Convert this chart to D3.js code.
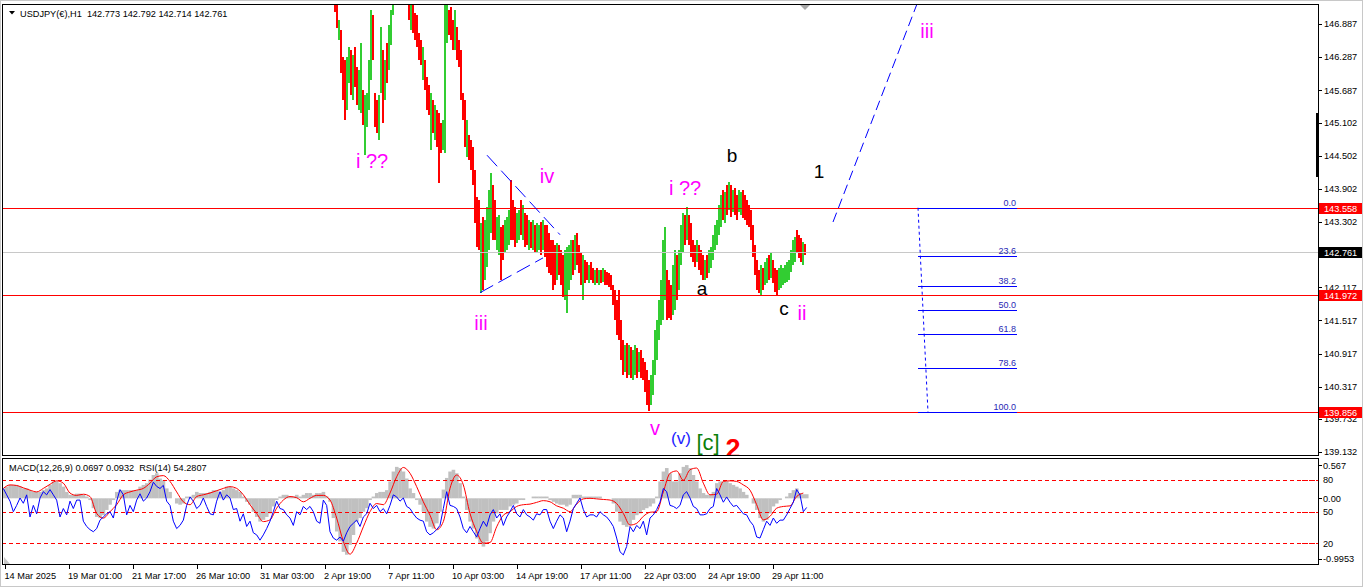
<!DOCTYPE html>
<html><head><meta charset="utf-8">
<script src="https://cdn.jsdelivr.net/npm/d3@7"></script>
<style>
html,body{margin:0;padding:0;background:#fff;overflow:hidden;}
svg{display:block;font-family:"Liberation Sans",Arial,sans-serif;}
text{white-space:pre;}
</style></head><body>
<svg id="c" width="1366" height="588"></svg>
<script>
// ---------------- DATA ----------------
const symbolTitle = "USDJPY(€),H1  142.773 142.792 142.714 142.761";
const indTitle = "MACD(12,26,9) 0.0697 0.0932  RSI(14) 54.2807";
// price bars (2-hour sampling, first visible bar at hour 330)
const barStartHour = 330, barStepHours = 2;
const highs = [
147.60,147.40,146.96,146.78,146.29,146.24,146.29,146.47,146.42,146.33,
146.47,146.11,146.05,146.54,145.69,145.60,145.64,146.24,147.14,147.05,
145.64,145.51,145.60,146.83,146.42,146.24,146.54,146.87,147.14,147.40,
147.80,147.95,148.05,147.95,147.85,147.80,147.70,147.45,147.23,147.23,
147.09,147.05,146.72,146.60,146.47,146.24,145.93,145.78,145.64,145.51,
145.42,145.33,145.27,145.09,145.15,147.27,147.23,147.14,147.20,146.96,
147.14,146.83,146.60,146.42,145.64,145.51,145.15,144.88,144.79,144.66,
144.24,143.75,143.70,143.28,143.39,143.34,143.57,143.88,144.19,143.97,
143.70,143.39,143.43,143.21,143.25,143.34,143.39,143.52,144.06,143.70,
143.57,143.46,143.52,143.70,143.61,143.46,143.43,143.34,143.30,143.34,
143.25,143.28,143.25,143.30,143.34,143.25,143.25,143.10,142.97,142.97,
142.88,142.92,142.88,142.79,142.70,142.79,142.85,142.88,142.97,142.97,
143.06,143.10,142.88,142.74,142.70,142.61,142.57,142.52,142.57,142.47,
142.43,142.47,142.43,142.43,142.47,142.43,142.39,142.38,142.34,142.16,
142.07,141.89,142.07,141.52,141.16,141.07,141.11,141.07,141.03,140.98,
141.07,141.02,140.94,140.98,140.84,140.76,140.62,140.44,140.53,140.80,
141.34,141.52,141.89,142.25,142.97,143.21,142.43,142.25,142.16,142.52,
142.79,142.70,142.79,143.25,143.46,143.43,143.57,143.43,143.28,142.97,
142.88,142.97,142.88,142.79,142.70,142.61,142.70,142.79,142.85,143.06,
143.25,143.34,143.61,143.79,143.88,143.84,143.97,144.03,143.97,143.88,
143.92,143.79,143.88,143.84,143.88,143.79,143.70,143.61,143.52,143.25,
142.88,142.61,142.43,142.52,142.47,142.57,142.65,142.70,142.74,142.61,
142.47,142.43,142.47,142.52,142.47,142.52,142.57,142.61,142.79,142.97,
143.03,143.16,143.06,143.01,142.94,142.90];
const lows = [
147.10,146.81,146.60,146.00,145.51,145.15,145.33,145.82,145.60,145.51,
145.75,145.42,145.33,145.27,145.06,144.51,145.02,145.33,145.87,146.24,
145.02,144.91,144.79,145.64,145.09,145.51,145.82,146.05,146.51,147.05,
147.35,147.45,147.55,147.45,147.40,147.35,147.25,146.96,146.78,146.72,
146.60,146.47,146.24,146.15,145.87,145.69,145.33,145.24,144.60,144.91,
144.79,144.66,144.01,144.55,144.60,144.55,146.54,146.69,146.60,146.42,
146.42,146.24,146.11,145.51,145.15,144.66,144.48,144.42,144.24,143.97,
143.28,142.85,142.79,142.01,142.07,142.25,142.49,142.79,143.10,142.97,
142.97,142.79,142.70,142.25,142.61,142.74,142.79,142.88,142.97,142.97,
142.85,142.92,142.97,143.06,142.97,142.85,142.88,142.79,142.83,142.79,
142.76,142.74,142.79,142.70,142.79,142.67,142.49,142.38,142.34,142.07,
142.16,142.25,142.34,142.16,141.94,141.89,141.65,142.07,142.25,142.34,
142.43,142.52,142.38,142.16,141.89,142.20,142.25,142.20,142.25,142.20,
142.16,142.20,142.16,142.20,142.21,142.16,142.16,142.12,142.07,141.80,
141.52,141.25,141.16,140.80,140.52,140.58,140.47,140.52,140.47,140.44,
140.52,140.47,140.58,140.47,140.44,140.22,139.99,139.88,139.99,140.17,
140.53,140.80,141.16,141.43,141.52,141.89,141.52,141.56,141.52,141.61,
141.71,141.89,142.07,142.52,142.74,142.88,142.97,142.88,142.67,142.57,
142.49,142.57,142.43,142.34,142.25,142.25,142.29,142.38,142.47,142.61,
142.79,142.88,143.06,143.21,143.34,143.28,143.43,143.52,143.39,143.48,
143.43,143.34,143.48,143.43,143.37,143.34,143.25,143.21,142.97,142.67,
142.34,142.07,142.01,141.98,142.07,142.16,142.20,142.25,142.29,142.20,
142.03,141.98,142.07,142.10,142.16,142.20,142.21,142.25,142.39,142.52,
142.57,142.76,142.65,142.57,142.52,142.70];
const dirs = ("dduddduudu dduuduuuud dduududuuu uuddudddud ddddudddud uddduuuddd uddddduddd ddduduuuud duudduuudd duududdudu " +
 "duududdddd duddduuuud uddduddudd udududdddd dddddududu ududdddduu uuuuuudddu uduuududdd duddduduuu uuuudududu " +
 "dduudddddd ddduduudud dduuuuuuuu udddud").replace(/ /g, "");

// MACD main (histogram), one sample every 10/3 hours
const macd = [
0.17,0.20,0.23,0.23,0.23,0.20,0.17,0.17,0.14,0.11,
0.11,0.11,0.14,0.17,0.23,0.29,0.29,0.26,0.20,0.11,
0.06,0.06,0.08,0.08,0.06,0.03,-0.03,-0.17,-0.32,-0.34,
-0.29,-0.20,-0.11,-0.03,0.11,0.14,0.14,0.14,0.14,0.14,
0.14,0.20,0.23,0.26,0.32,0.40,0.43,0.34,0.31,0.17,
0.11,0.0,-0.09,-0.11,-0.09,0.03,0.03,0.06,0.11,0.09,
0.09,0.09,0.11,0.14,0.14,0.11,0.14,0.20,0.20,0.17,
0.14,0.11,0.03,-0.06,-0.11,-0.23,-0.32,-0.40,-0.37,-0.32,
-0.26,-0.14,-0.03,0.03,0.06,0.06,0.03,0.03,0.06,0.03,
0.06,0.09,0.09,0.06,0.09,0.09,0.11,0.03,-0.06,-0.34,
-0.57,-0.74,-0.92,-0.97,-0.80,-0.63,-0.40,-0.34,-0.23,-0.17,
-0.03,0.03,0.09,0.11,0.11,0.14,0.29,0.46,0.54,0.52,
0.46,0.34,0.17,0.09,-0.03,-0.11,-0.23,-0.40,-0.49,-0.52,
-0.43,-0.23,
0.15,0.35,0.46,0.49,0.43,0.26,0.03,-0.20,-0.40,-0.52,
-0.69,-0.77,-0.83,-0.74,-0.60,-0.40,-0.26,-0.20,-0.20,-0.20,
-0.14,-0.11,-0.09,-0.03,-0.03,0.0,0.0,0.03,0.03,0.03,
0.03,0.03,-0.03,-0.06,-0.09,-0.11,-0.11,-0.14,-0.11,0.06,
0.06,0.06,0.03,0.03,0.03,0.03,0.03,0.03,0.0,0.0,
0.0,-0.09,-0.23,-0.40,-0.46,-0.49,-0.46,-0.37,-0.29,-0.26,
-0.20,-0.17,-0.14,-0.09,0.03,0.29,0.46,0.52,0.43,0.29,
0.29,0.43,0.54,0.57,0.52,0.40,0.29,0.17,0.09,0.06,
0.06,0.11,0.26,0.29,0.29,0.29,0.26,0.23,0.20,0.17,
0.11,0.06,0.0,-0.09,-0.20,-0.34,-0.40,-0.37,-0.26,-0.14,
-0.09,-0.03,0.0,0.03,0.09,0.14,0.17,0.09,0.07,0.07];
// MACD signal, one sample every 20/3 hours
const signal = [
0.17,0.23,0.22,0.18,0.14,0.11,0.17,0.24,0.30,0.26,
0.09,0.05,0.07,0.03,-0.26,-0.34,-0.23,-0.11,0.06,0.11,
0.14,0.17,0.26,0.37,0.39,0.29,0.11,-0.06,-0.11,0.03,
0.06,0.09,0.13,0.17,0.20,0.17,0.06,-0.11,-0.26,-0.40,
-0.37,-0.17,-0.03,0.03,0.01,-0.06,0.0,0.05,0.05,-0.03,
-0.34,-0.74,-0.96,-0.77,-0.49,-0.23,-0.09,-0.11,0.09,0.37,
0.53,0.43,0.20,-0.06,-0.29,-0.54,
-0.40,0.17,0.40,0.23,-0.26,-0.57,-0.77,-0.76,-0.49,-0.29,
-0.23,-0.14,-0.11,-0.10,-0.07,-0.04,-0.06,-0.13,-0.17,-0.23,
-0.10,-0.01,0.0,-0.01,-0.02,-0.03,-0.09,-0.26,-0.46,-0.43,
-0.31,-0.24,-0.23,0.11,0.43,0.47,0.31,0.49,0.52,0.26,
0.06,0.07,0.29,0.30,0.29,0.23,0.14,-0.11,-0.37,-0.31,
-0.17,-0.14,-0.13,0.03,0.09];
// RSI(14), one sample every 10/3 hours
const rsi = [
72,66,60,50,56,63,58,66,45,56,
48,63,69,66,71,66,61,45,53,47,
60,53,61,61,41,36,33,31,34,42,
45,48,50,44,60,71,66,47,56,50,
61,67,60,63,69,78,74,72,75,60,
56,41,34,37,42,56,64,60,53,56,
63,55,48,47,60,69,61,66,63,52,
53,41,48,36,41,30,28,23,28,34,
41,50,60,53,52,47,44,37,50,47,
55,52,55,50,41,39,61,56,31,25,
23,26,22,30,36,39,42,36,45,48,
58,53,56,50,53,48,56,66,64,60,
63,55,53,48,44,42,41,31,28,30,
33,37,
53,69,56,55,53,45,34,30,36,31,
26,34,41,36,47,52,44,48,37,45,
50,56,48,45,52,47,45,42,48,47,
52,52,41,34,41,47,44,31,41,53,
58,63,52,45,47,47,45,50,47,45,
41,36,25,12,9,17,36,31,37,34,
41,28,44,47,52,59,72,69,56,55,
53,56,66,69,63,55,53,47,47,48,
53,55,72,66,59,64,59,55,56,52,
48,47,41,37,26,25,33,41,37,44,
39,42,42,47,53,59,71,66,50,54];

const timeLabels = ["14 Mar 2025","19 Mar 01:00","21 Mar 17:00","26 Mar 10:00","31 Mar 03:00","2 Apr 19:00",
  "7 Apr 11:00","10 Apr 03:00","14 Apr 19:00","17 Apr 11:00","22 Apr 03:00","24 Apr 19:00","29 Apr 11:00"];
const timeLabelHours = [0,64,128,192,256,320,384,448,512,576,640,704,768];
const priceTicks = [146.887,146.287,145.687,145.102,144.502,143.902,143.302,142.702,142.117,141.517,140.917,140.317,139.732,139.132];
const redLevels = [143.558, 141.972, 139.856];
const bidPrice = 142.761;
const macdTicks = [0.567, 0.00, -0.9953];
const macdTickText = ["0.567","0.00","-0.9953"];
const rsiLevels = [80, 50, 20];
// Fibonacci retracement (anchors in hours / prices)
const fibHigh = 143.558, fibLow = 139.856;
const fibLevels = [0, 23.6, 38.2, 50, 61.8, 78.6, 100];
const fibText = ["0.0","23.6","38.2","50.0","61.8","78.6","100.0"];
const fibStartHour = 913, fibEndHour = 1012, fibTrendHours = [913, 923];
// trend lines [hour1, price1, hour2, price2]
const triUpper = [482, 144.51, 555, 143.07];
const triLower = [475, 142.02, 538, 142.65];
const projLine = [828, 143.30, 912, 147.25];
// wave labels: text, hour, baseline price, colour, size
const waveText  = ["i ??","iii","iv","v","(v)","[c]","2","i ??","b","a","c","ii","1","iii"];
const waveHour  = [367,476,542,650,676,703,728,680,727,697,779,797,814,922];
const wavePrice = [144.28,141.34,144.01,139.44,139.28,139.17,139.03,143.79,144.39,141.98,141.62,141.53,144.10,146.63];
const waveColor = ["#ff00ff","#ff00ff","#ff00ff","#ff00ff","#2222ff","#0a800a","#ff0000","#ff00ff","#000","#000","#000","#ff00ff","#000","#ff00ff"];
const waveSize  = [20,20,20,20,17,22,27,20,19,19,19,20,19,20];

// ---------------- LAYOUT ----------------
const L = 2, R = 1318, T = 4, B = 455, IT = 458, IB = 564;
const svg = d3.select("#c");
const x = d3.scaleLinear().domain([0, 800]).range([5, 805]);
const y = d3.scaleLinear().domain([139.132, 146.887]).range([452.1, 24]);
const ym = d3.scaleLinear().domain([0, 0.567]).range([498.3, 465.3]);
const yr = d3.scaleLinear().domain([0, 100]).range([564.4, 459]);

const defs = svg.append("defs");
defs.append("clipPath").attr("id","cm").append("rect").attr("x",L+1).attr("y",T+1).attr("width",R-L-1).attr("height",B-T-1);
defs.append("clipPath").attr("id","ci").append("rect").attr("x",L+1).attr("y",IT+1).attr("width",R-L-1).attr("height",IB-IT-1);

// outer window frame
svg.append("rect").attr("x",0.5).attr("y",0.5).attr("width",1362).attr("height",586).attr("fill","none").attr("stroke","#c8c8c8");

const main = svg.append("g").attr("clip-path","url(#cm)");
const ind = svg.append("g").attr("clip-path","url(#ci)");

// bars (high-low lines)
const bars = highs.map((h,i)=>({hour: barStartHour + i*barStepHours, h, l: lows[i], up: dirs[i]==="u"}));
main.selectAll("rect.bar").data(bars).join("rect").attr("class","bar")
  .attr("x", d=>Math.round(x(d.hour))-1).attr("width",2)
  .attr("y", d=>y(d.h)).attr("height", d=>Math.max(1, y(d.l)-y(d.h)))
  .attr("fill", d=>d.up ? "#32cd32" : "#ff0000").attr("shape-rendering","crispEdges");

// horizontal lines
main.append("line").attr("x1",L).attr("x2",R).attr("y1",Math.round(y(bidPrice))+0.5).attr("y2",Math.round(y(bidPrice))+0.5)
  .attr("stroke","#c8c8c8");
main.selectAll("line.lvl").data(redLevels).join("line").attr("class","lvl")
  .attr("x1",L).attr("x2",R).attr("y1",d=>Math.round(y(d))+0.5).attr("y2",d=>Math.round(y(d))+0.5)
  .attr("stroke","#ff0000");

// fib
const fibPrice = v => fibHigh - v/100*(fibHigh-fibLow);
main.selectAll("line.fib").data(fibLevels).join("line").attr("class","fib")
  .attr("x1",x(fibStartHour)).attr("x2",x(fibEndHour))
  .attr("y1",d=>Math.round(y(fibPrice(d)))+0.5).attr("y2",d=>Math.round(y(fibPrice(d)))+0.5)
  .attr("stroke","#0000ff");
main.selectAll("text.fib").data(fibLevels).join("text").attr("class","fib")
  .attr("x",x(fibEndHour)-1).attr("y",d=>Math.round(y(fibPrice(d)))-2)
  .attr("text-anchor","end").attr("font-size",9).attr("fill","#2828b4")
  .text((d,i)=>fibText[i]);
main.append("line").attr("x1",x(fibTrendHours[0])).attr("y1",y(fibHigh)).attr("x2",x(fibTrendHours[1])).attr("y2",y(fibLow))
  .attr("stroke","#0000ff").attr("stroke-dasharray","3,3");

// trend lines
function tl(a, dash){
  main.append("line").attr("x1",x(a[0])).attr("y1",y(a[1])).attr("x2",x(a[2])).attr("y2",y(a[3]))
    .attr("stroke","#0000ff").attr("stroke-width",1).attr("stroke-dasharray",dash);
}
tl(triUpper,"15,6"); tl(triLower,"15,6"); tl(projLine,"10,5");

// wave labels
main.selectAll("text.wave").data(waveText).join("text").attr("class","wave")
  .attr("x",(d,i)=>x(waveHour[i])).attr("y",(d,i)=>y(wavePrice[i]))
  .attr("text-anchor","middle").attr("font-size",(d,i)=>waveSize[i])
  .attr("font-weight",(d,i)=>d==="2"?"bold":"normal")
  .attr("fill",(d,i)=>waveColor[i]).text(d=>d);

// shift marker
svg.append("path").attr("d","M800,5 L810,5 L805,10 Z").attr("fill","#a8a8a8");

// header
svg.append("path").attr("d","M9,11 L15,11 L12,14.5 Z").attr("fill","#000");
svg.append("text").attr("x",20).attr("y",16.5).attr("font-size",9.2).attr("fill","#000").text(symbolTitle);

// ---------------- INDICATOR ----------------
const sx = j => x((10/3)*(j+1) - 5);
ind.selectAll("rect.h").data(macd).join("rect").attr("class","h")
  .attr("x",(d,j)=>sx(j)-1.7).attr("width",3.6)
  .attr("y",d=>ym(Math.max(0,d))).attr("height",d=>Math.abs(ym(d)-ym(0)))
  .attr("fill","#c0c0c0");
ind.selectAll("line.rl").data(rsiLevels).join("line").attr("class","rl")
  .attr("x1",L).attr("x2",R).attr("y1",d=>Math.round(yr(d))+0.5).attr("y2",d=>Math.round(yr(d))+0.5)
  .attr("stroke","#ff0000").attr("stroke-dasharray","4,3");
ind.append("path").datum(signal).attr("fill","none").attr("stroke","#ff0000").attr("stroke-width",1)
  .attr("d", d3.line().x((d,m)=>x((10/3)*(2*m+1)-5)).y(d=>ym(d)).curve(d3.curveMonotoneX));
ind.append("path").datum(rsi).attr("fill","none").attr("stroke","#0000ff").attr("stroke-width",1)
  .attr("d", d3.line().x((d,j)=>sx(j)).y(d=>yr(d)));
svg.append("path").attr("d","M4,557 L4,564 L10,564 Z").attr("fill","#c8c8c8");
svg.append("text").attr("x",9).attr("y",471).attr("font-size",9.2).attr("fill","#000").text(indTitle);

// ---------------- FRAMES & AXES ----------------
const fr = svg.append("g").attr("fill","none").attr("stroke","#000").attr("shape-rendering","crispEdges");
fr.append("rect").attr("x",L+0.5).attr("y",T+0.5).attr("width",R-L).attr("height",B-T);
fr.append("rect").attr("x",L+0.5).attr("y",IT+0.5).attr("width",R-L).attr("height",IB-IT);
svg.append("rect").attr("x",1316).attr("y",113).attr("width",3).attr("height",64).attr("fill","#000");

// price axis (labels partly hidden behind the price boxes, as in MT4)
const pa = svg.append("g");
pa.selectAll("line").data(priceTicks).join("line")
  .attr("x1",R).attr("x2",R+4).attr("y1",d=>Math.round(y(d))+0.5).attr("y2",d=>Math.round(y(d))+0.5)
  .attr("stroke","#000");
pa.selectAll("text").data(priceTicks).join("text")
  .attr("x",R+6).attr("y",d=>y(d)+3.3).attr("font-size",9.2).attr("fill","#000").text(d=>d.toFixed(3));

function priceBox(p, fill){
  const yy = Math.round(y(p));
  svg.append("rect").attr("x",R+1).attr("y",yy-5).attr("width",43).attr("height",11).attr("fill",fill);
  svg.append("text").attr("x",R+6).attr("y",yy+3.5).attr("font-size",9.2).attr("fill","#fff").text(p.toFixed(3));
}
redLevels.forEach(p=>priceBox(p,"#ff0000"));
priceBox(bidPrice,"#000");

// indicator axis
const ia = svg.append("g");
macdTicks.forEach((v,i)=>{
  const yy = ym(v) + (i===2?2.5:0);
  ia.append("line").attr("x1",R).attr("x2",R+4).attr("y1",Math.round(yy)+0.5).attr("y2",Math.round(yy)+0.5).attr("stroke","#000");
  ia.append("text").attr("x",R+5).attr("y",yy+3.3).attr("font-size",9.2).text(macdTickText[i]);
});
rsiLevels.forEach(v=>{
  const yy = yr(v);
  ia.append("line").attr("x1",R-16).attr("x2",R).attr("y1",Math.round(yy)+0.5).attr("y2",Math.round(yy)+0.5)
    .attr("stroke","#ff0000").attr("stroke-dasharray","4,3");
  ia.append("text").attr("x",R+5).attr("y",yy+3.3).attr("font-size",9.2).text(v);
});

// time axis
const ta = svg.append("g");
ta.selectAll("line").data(timeLabelHours).join("line")
  .attr("x1",d=>Math.round(x(d))+0.5).attr("x2",d=>Math.round(x(d))+0.5).attr("y1",IB).attr("y2",IB+5)
  .attr("stroke","#000");
ta.selectAll("text").data(timeLabelHours).join("text")
  .attr("x",(d,i)=>i===0?4.5:x(d)-1).attr("y",579).attr("font-size",9.2).attr("fill","#000")
  .text((d,i)=>timeLabels[i]);
</script>
</body></html>
